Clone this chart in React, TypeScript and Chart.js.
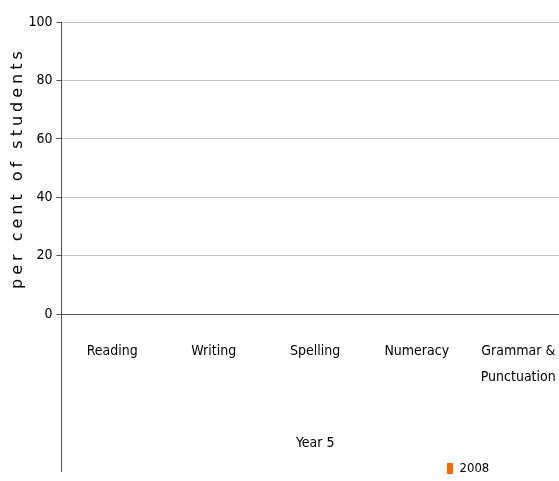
import React, { useEffect, useRef } from "react";
import { Chart, registerables } from "chart.js";

Chart.register(...registerables);

// ---- data ----
const categories: (string | string[])[] = [
  "Reading",
  "Writing",
  "Spelling",
  "Numeracy",
  ["Grammar &", "Punctuation"],
];
const seriesLabel = "2008";
const values2008: (number | null)[] = [null, null, null, null, null];
const yTickValues = [0, 20, 40, 60, 80, 100];
const xAxisTitle = "Year 5";
const yAxisTitle = "per cent of students";

const NARROW = "'DejaVu Sans Condensed', 'Liberation Sans Narrow', 'Arial Narrow', sans-serif";
const AXIS_DARK = "#505050";
const GRID_LIGHT = "#c4c4c4";

const titleSpacingPlugin = {
  id: "titleSpacing",
  afterDatasetsDraw(chart: any) {
    chart.ctx.letterSpacing = "4px";
  },
  afterDraw(chart: any) {
    chart.ctx.letterSpacing = "0px";
  },
};

const legendPlacePlugin = {
  id: "legendPlace",
  beforeDraw(chart: any) {
    const lg = chart.legend;
    if (!lg) return;
    const w = lg.right - lg.left;
    lg.left = 443;
    lg.right = lg.left + w;
  },
};

const axisExtendPlugin = {
  id: "axisExtend",
  afterDraw(chart: any) {
    const { ctx, chartArea } = chart;
    const x = Math.round(chartArea.left) + 0.5;
    const yEnd = chart.legend ? chart.legend.bottom - 13 : chart.height - 9;
    ctx.save();
    ctx.letterSpacing = "0px";
    ctx.strokeStyle = AXIS_DARK;
    ctx.lineWidth = 1;
    ctx.beginPath();
    ctx.moveTo(x, chartArea.bottom);
    ctx.lineTo(x, yEnd);
    ctx.stroke();
    ctx.restore();
  },
};

export default function App() {
  const ref = useRef<HTMLCanvasElement | null>(null);

  useEffect(() => {
    if (!ref.current) return;
    const chart = new Chart(ref.current, {
      type: "bar",
      data: {
        labels: categories as any,
        datasets: [
          {
            label: seriesLabel,
            data: values2008 as any,
            backgroundColor: "#FF6600",
            borderWidth: 0,
          },
        ],
      },
      options: {
        responsive: false,
        animation: false,
        devicePixelRatio: 1,
        layout: { padding: { top: 22, left: 0, right: 0, bottom: 0 } },
        plugins: {
          legend: {
            position: "bottom",
            align: "start",
            labels: {
              boxWidth: 6,
              boxHeight: 11,
              padding: 4,
              color: "#000",
              font: { family: NARROW, size: 13 },
            },
          },
          tooltip: { enabled: false },
        },
        scales: {
          x: {
            grid: { display: false, drawTicks: true, tickLength: 24, tickColor: "rgba(0,0,0,0)" },
            border: { display: true, color: AXIS_DARK, width: 1 },
            ticks: {
              color: "#000",
              font: { family: NARROW, size: 14, lineHeight: 26 / 14 },
              padding: 0,
              maxRotation: 0,
              autoSkip: false,
            },
            title: {
              display: true,
              text: xAxisTitle,
              color: "#000",
              font: { family: NARROW, size: 14 },
              padding: { top: 45, bottom: 6 },
            },
          },
          y: {
            min: 0,
            max: 100,
            afterBuildTicks: (scale: any) => {
              scale.ticks = yTickValues.map((v) => ({ value: v }));
            },
            grid: {
              z: 1,
              color: (c: any) => (c.tick && c.tick.value === 0 ? AXIS_DARK : GRID_LIGHT),
              tickColor: AXIS_DARK,
              tickLength: 5,
            },
            border: { display: true, color: AXIS_DARK, width: 1, z: 1 },
            ticks: {
              color: "#000",
              font: { family: NARROW, size: 14 },
              padding: 4,
            },
            title: {
              display: true,
              text: yAxisTitle,
              color: "#000",
              font: { family: "'DejaVu Sans', sans-serif", size: 16, lineHeight: 0.8 },
              padding: { top: 11.6, bottom: 0 },
            },
          },
        },
      },
      plugins: [titleSpacingPlugin, legendPlacePlugin, axisExtendPlugin],
    } as any);
    return () => chart.destroy();
  }, []);

  return (
    <div
      style={{
        position: "fixed",
        left: 0,
        top: 0,
        width: 559,
        height: 481,
        overflow: "hidden",
        background: "#fff",
      }}
    >
      <canvas ref={ref} width={569} height={485} style={{ display: "block" }} />
    </div>
  );
}
